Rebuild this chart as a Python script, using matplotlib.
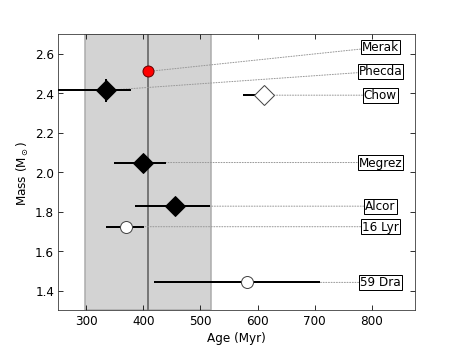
import matplotlib
matplotlib.use("Agg")
import matplotlib.pyplot as plt

names = ["Merak", "Phecda", "Chow", "Megrez", "Alcor", "16 Lyr", "59 Dra"]
ages = [408, 334, 611, 400, 455, 370, 581]
age_lo = [0, 130, 37, 52, 69, 35, 163]
age_hi = [0, 44, 0, 40, 61, 32, 129]
masses = [2.51, 2.414, 2.39, 2.049, 1.828, 1.724, 1.442]
mass_err = [0, 0.06, 0, 0, 0, 0, 0]
styles = ["red", "filled_d", "open_d", "filled_d", "filled_d", "open_o", "open_o"]
label_x = [815, 815, 815, 815, 815, 815, 815]
label_y = [2.634, 2.512, 2.39, 2.049, 1.828, 1.724, 1.442]

cluster_age = 408
cluster_span = (298, 518)

fig = plt.figure(figsize=(6.4, 4.8), dpi=72)
ax = fig.add_axes([0.125, 0.1, 0.775, 0.8])

ax.axvspan(cluster_span[0], cluster_span[1], facecolor="#d3d3d3", edgecolor="#aaaaaa", lw=1.5, zorder=0)
ax.axvline(cluster_age, color="#777777", lw=2, zorder=1)

for n, a, lo, hi, m, me, s, lx, ly in zip(names, ages, age_lo, age_hi, masses, mass_err, styles, label_x, label_y):
    ax.annotate(n, xy=(a, m), xytext=(lx, ly), ha="center", va="center", fontsize=12,
                bbox=dict(boxstyle="square,pad=0.08", fc="white", ec="black", lw=1),
                arrowprops=dict(arrowstyle="-", linestyle=":", color="#999999", lw=1, shrinkA=0, shrinkB=0),
                zorder=2)
    if lo or hi or me:
        ax.errorbar([a], [m], xerr=[[lo], [hi]], yerr=[[me], [me]] if me else None,
                    fmt="none", ecolor="black", elinewidth=2, capsize=0, zorder=3)
    if s == "red":
        ax.plot(a, m, "o", ms=11, mfc="red", mec="#660000", mew=1, zorder=4)
    elif s == "filled_d":
        ax.plot(a, m, "D", ms=13.5, mfc="black", mec="black", zorder=4)
    elif s == "open_d":
        ax.plot(a, m, "D", ms=13.5, mfc="white", mec="#444444", mew=1, zorder=4)
    else:
        ax.plot(a, m, "o", ms=12, mfc="white", mec="#444444", mew=1, zorder=4)

ax.set_xlim(250, 875)
ax.set_ylim(1.3, 2.7)
ax.set_xticks([300, 400, 500, 600, 700, 800])
ax.set_yticks([1.4, 1.6, 1.8, 2.0, 2.2, 2.4, 2.6])
ax.tick_params(direction="in", top=True, right=True, labelsize=12, length=5)
for sp in ax.spines.values():
    sp.set_color("#333333")
ax.set_xlabel("Age (Myr)", fontsize=12)
ax.set_ylabel(r"Mass (M$_\odot$)", fontsize=12)

fig.savefig("out.png", dpi=72)
